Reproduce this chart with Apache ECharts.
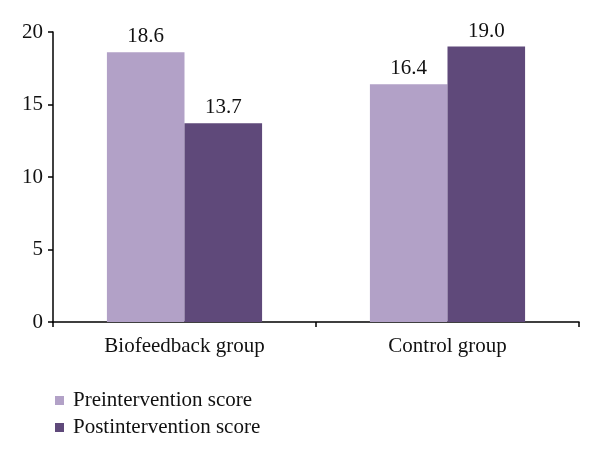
<!DOCTYPE html>
<html><head><meta charset="utf-8">
<script src="https://cdn.jsdelivr.net/npm/echarts@6/dist/echarts.min.js"></script>
<style>html,body{margin:0;padding:0;background:#fff}#c{width:600px;height:456px}</style>
</head><body><div id="c"></div>
<script>
const categories = ['Biofeedback group', 'Control group'];
const preScores = [18.6, 16.4];
const postScores = [13.7, 19.0];
const seriesNames = ['Preintervention score', 'Postintervention score'];
const yTicks = { min: 0, max: 20, interval: 5 };

const FONT = 'Liberation Serif';
const FS = 21;
const chart = echarts.init(document.getElementById('c'), null, { renderer: 'canvas' });
const labelCfg = { show: true, position: 'top', distance: 5, color: '#111', fontFamily: FONT, fontSize: FS, formatter: p => p.value.toFixed(1) };
chart.setOption({
  animation: false,
  textStyle: { fontFamily: FONT },
  grid: { left: 53, right: 21, top: 32, bottom: 134, containLabel: false },
  legend: {
    orient: 'vertical', left: 50, top: 385, itemWidth: 9, itemHeight: 9, itemGap: 6,
    icon: 'rect',
    textStyle: { fontFamily: FONT, fontSize: FS, color: '#111', padding: [0, 0, 0, 4] },
    data: seriesNames
  },
  xAxis: {
    type: 'category', data: categories,
    axisLine: { lineStyle: { color: '#000', width: 1.5 } },
    axisTick: { show: true, inside: false, length: 5, lineStyle: { color: '#000', width: 1.5 } },
    axisLabel: { color: '#111', fontFamily: FONT, fontSize: FS, margin: 14 }
  },
  yAxis: {
    type: 'value', min: yTicks.min, max: yTicks.max, interval: yTicks.interval,
    splitLine: { show: false },
    axisLine: { show: true, lineStyle: { color: '#000', width: 1.5 } },
    axisTick: { show: true, length: 5, lineStyle: { color: '#000', width: 1.5 } },
    axisLabel: { color: '#111', fontFamily: FONT, fontSize: FS, margin: 10 }
  },
  series: [
    { name: seriesNames[0], type: 'bar', data: preScores, barGap: '0%', barCategoryGap: '41%',
      itemStyle: { color: '#b2a1c7' }, label: labelCfg },
    { name: seriesNames[1], type: 'bar', data: postScores, barGap: '0%', barCategoryGap: '41%',
      itemStyle: { color: '#5f497a' }, label: labelCfg }
  ]
});
</script></body></html>
